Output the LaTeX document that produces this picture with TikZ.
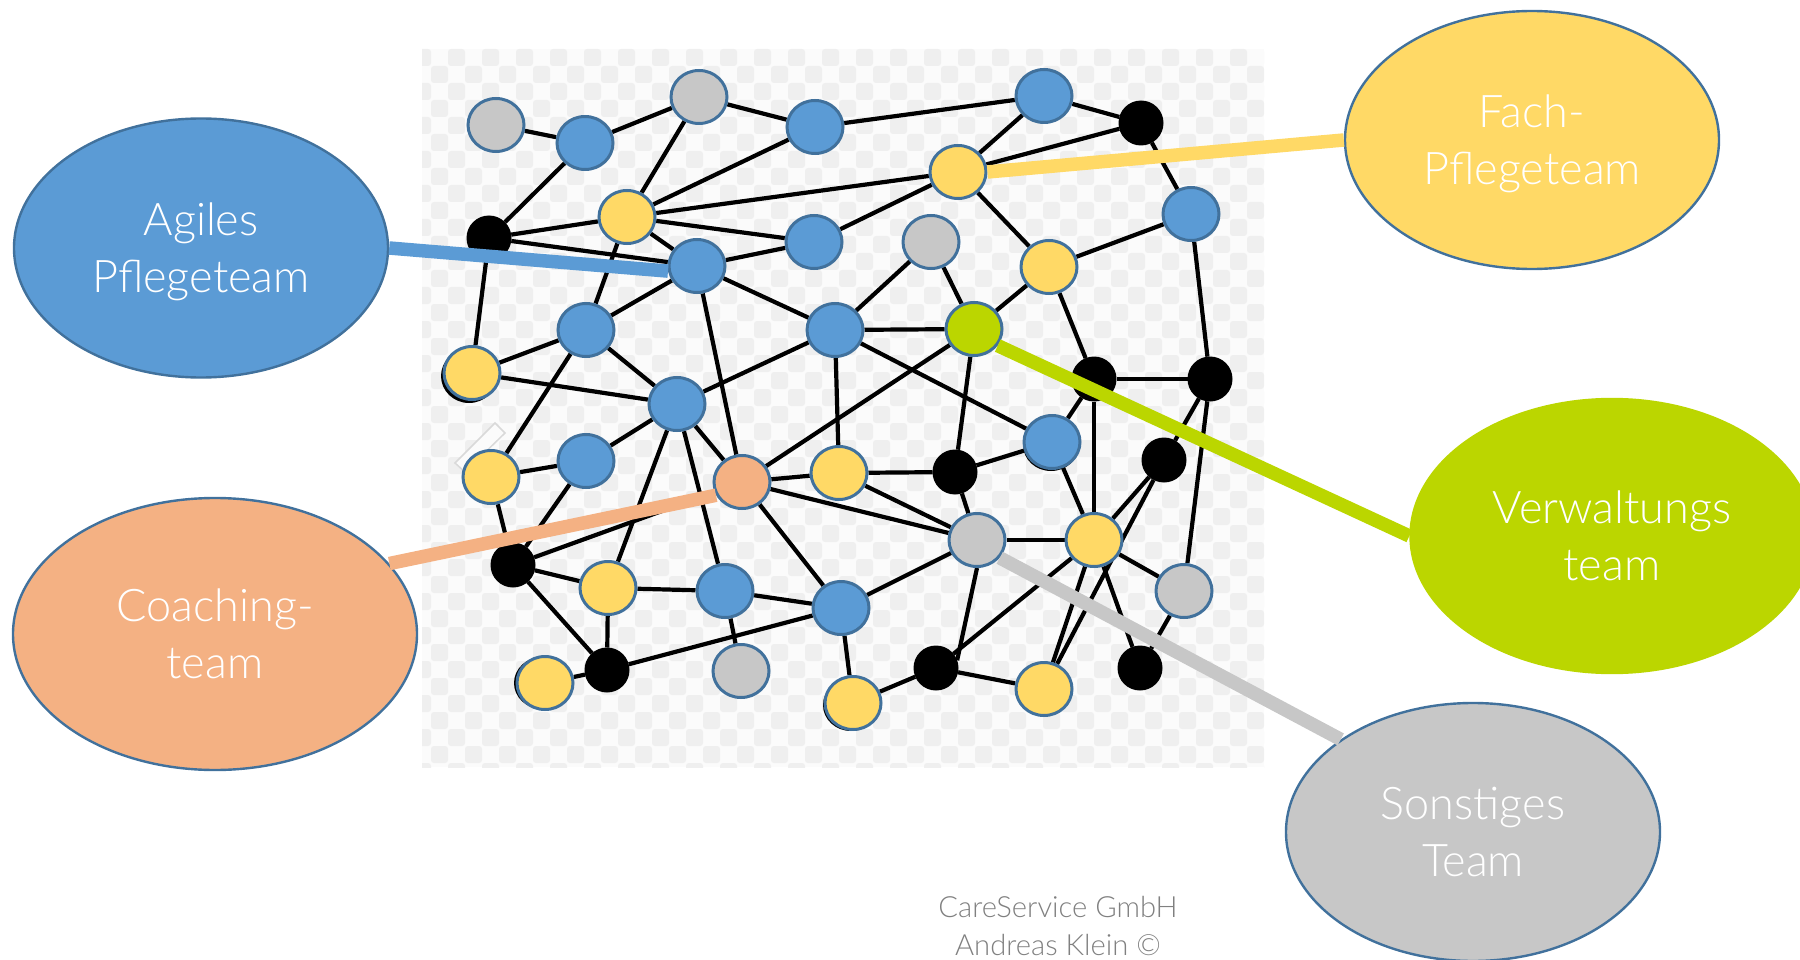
\documentclass[tikz,border=0pt]{standalone}
\usepackage{fontspec}
\setmainfont{Lato}[UprightFont={* Light}]
\usetikzlibrary{shapes.geometric}
\definecolor{cblue}{HTML}{5B9BD5}
\definecolor{cyellow}{HTML}{FFD966}
\definecolor{cgray}{HTML}{C7C7C7}
\definecolor{clime}{HTML}{BBD600}
\definecolor{ccoral}{HTML}{F4B183}
\definecolor{cline}{HTML}{41719C}
\definecolor{ccheck}{HTML}{EFEFEF}
\definecolor{cpaper}{HTML}{FBFBFB}
\definecolor{cfoot}{HTML}{808080}
\pgfdeclarelayer{bg}
\pgfdeclarelayer{edges}
\pgfsetlayers{bg,edges,main}
\newcommand{\twolines}[2]{\rule{0pt}{42pt}#1\\\rule[-10pt]{0pt}{10pt}#2}
\tikzset{
  x=1pt,y=-1pt,
  dot/.style={ellipse,draw=cline,line width=3pt,minimum width=56pt,minimum height=53pt,inner sep=0pt},
  bdot/.style={dot,fill=cblue},
  ydot/.style={dot,fill=cyellow},
  gdot/.style={dot,fill=cgray},
  kdot/.style={ellipse,fill=black,minimum width=45pt,minimum height=45pt,inner sep=0pt,outer sep=0pt},
  edge/.style={line width=4.2pt,black},
  team/.style={ellipse,line width=2.4pt,inner sep=0pt,text=white,align=center,
    font=\fontsize{45}{57}\selectfont},
  link/.style={line width=13.5pt},
  foot/.style={text=cfoot,font=\fontsize{29.2}{38}\selectfont,inner sep=0pt,anchor=base}
}
\begin{document}
\begin{tikzpicture}
\useasboundingbox (0,0) rectangle (1800,960);
\begin{pgfonlayer}{bg}
  \fill[cpaper] (422,49) rectangle (1264,767);
  \begin{scope}
    \clip (422,49) rectangle (1264,767);
    \foreach \j in {0,...,42}{
      \foreach \i in {0,...,51}{
        \pgfmathparse{int(mod(\i+\j,2))}
        \ifnum\pgfmathresult=0
          \fill[ccheck,rounded corners=3pt] ({414+17*\i},{49+17*\j}) rectangle ++(17,17);
        \fi
      }
    }
  \end{scope}
\end{pgfonlayer}

\node[gdot] (g1) at (496,125) {};
\node[bdot] (b1) at (585,143) {};
\node[gdot] (g2) at (699,97) {};
\node[bdot] (b2) at (815,127) {};
\node[ydot] (y1) at (627,217) {};
\node[kdot] (k1) at (489,238) {};
\node[bdot] (b3) at (697,266) {};
\node[bdot] (b4) at (814,242) {};
\node[bdot] (b5) at (586,330) {};
\node[bdot] (b6) at (835,330) {};
\node[ydot] (y2) at (472,373) {};
\node[bdot] (b7) at (677,404) {};
\node[bdot] (b8) at (1044,96) {};
\node[kdot] (k2) at (1141,123) {};
\node[ydot] (y3) at (958,172) {};
\node[bdot] (b9) at (1191,214) {};
\node[gdot] (g3) at (931,242) {};
\node[ydot] (y4) at (1049,267) {};
\node[dot,fill=clime] (lime) at (974,329) {};
\node[kdot] (k3) at (1094,379) {};
\node[kdot] (k4) at (1210,379) {};
\node[ydot] (y5) at (491,477) {};
\node[bdot] (b10) at (586,461) {};
\node[dot,fill=ccoral] (coral) at (742,482) {};
\node[ydot] (y6) at (839,473) {};
\node[kdot] (k5) at (513,565) {};
\node[ydot] (y7) at (608,588) {};
\node[bdot] (b11) at (725,591) {};
\node[bdot] (b12) at (841,608) {};
\node[kdot] (k6) at (607,670) {};
\node[ydot] (y8) at (545,683) {};
\node[gdot] (g4) at (741,671) {};
\node[ydot] (y9) at (853,703) {};
\node[bdot] (b13) at (1052,442) {};
\node[kdot] (k7) at (955,472) {};
\node[kdot] (k8) at (1164,460) {};
\node[gdot] (g5) at (977,540) {};
\node[ydot] (y10) at (1094,540) {};
\node[gdot] (g6) at (1184,591) {};
\node[kdot] (k9) at (936,668) {};
\node[ydot] (y11) at (1044,689) {};
\node[kdot] (k10) at (1140,668) {};

\begin{pgfonlayer}{edges}
  \draw[draw=gray!30,fill=cpaper,line width=1.5pt] (455,463) -- (495,423) -- (505,433) -- (465,472) -- cycle;
  \foreach \a/\b in {g1/b1,b1/g2,g2/b2,b2/b8,b8/k2,k2/y3,b8/y3,y3/y1,y1/b2,y1/g2,y1/b4,y1/k1,y1/b3,
    k1/b1,k1/b3,k1/y2,b3/b4,b4/y3,y1/b5,b3/b5,b3/b6,b3/coral,b5/y2,b5/b7,b5/y5,y2/b7,b6/b7,b6/lime,
    b6/g3,g3/lime,lime/y4,y4/y3,y4/b9,b9/k2,b9/k4,y4/k3,k3/k4,lime/k7,lime/coral,b6/b13,b6/y6,
    b7/b10,b7/coral,b7/y7,b7/b11,b10/y5,b10/k5,y5/k5,coral/y6,coral/k5,coral/b12,coral/g5,y6/g5,y6/k7,
    k7/b13,k7/g5,b13/y10,k3/b13,k3/y10,k4/k8,k4/g6,k8/y10,k8/y11,y10/y11,y10/k10,y10/k9,y10/g5,y10/g6,
    g6/k10,g5/b12,b12/y9,y9/k9,k9/y11,k5/y7,k5/k6,y7/k6,y7/b11,b11/b12,b11/g4,b12/k6,k6/y8}
    {\draw[edge] (\a) -- (\b);}
  \draw[edge] (g5.south) -- (k9.20);
  \fill[black] (469,376) ellipse [x radius=28pt,y radius=27pt];
  \fill[black] (542,683) ellipse [x radius=28pt,y radius=26pt];
  \fill[black] (851,705) ellipse [x radius=28pt,y radius=26pt];
  \fill[black] (1051,445) ellipse [x radius=28pt,y radius=26pt];
\end{pgfonlayer}

\node[team,fill=cblue,draw=cline,minimum width=374pt,minimum height=259pt] (agile) at (201,248) {\twolines{Agiles}{Pflegeteam}};
\node[team,fill=cyellow,draw=cline,minimum width=374pt,minimum height=258pt] (fach) at (1532,140) {\twolines{Fach-}{Pflegeteam}};
\node[team,fill=clime,draw=clime,minimum width=403pt,minimum height=274pt] (verw) at (1612,536) {\twolines{Verwaltungs}{team}};
\node[team,fill=ccoral,draw=cline,minimum width=404pt,minimum height=272pt] (coach) at (215,634) {\twolines{Coaching-}{team}};
\node[team,fill=cgray,draw=cline,minimum width=374pt,minimum height=258pt] (sonst) at (1473,832) {\twolines{Sonstiges}{Team}};

\draw[link,cblue] (agile.east) -- (b3.190);
\draw[link,cyellow] (fach.west) -- (y3.east);
\draw[link,clime] (verw.west) -- (lime.-35);
\draw[link,ccoral] (coach.22) -- (coral.207);
\draw[link,cgray] (sonst.145) -- (g5.-38);

\node[foot] (foot1) at (1058,917) {CareService GmbH};
\node[foot] (foot2) at (1058,955) {Andreas Klein ©};
\end{tikzpicture}
\end{document}
